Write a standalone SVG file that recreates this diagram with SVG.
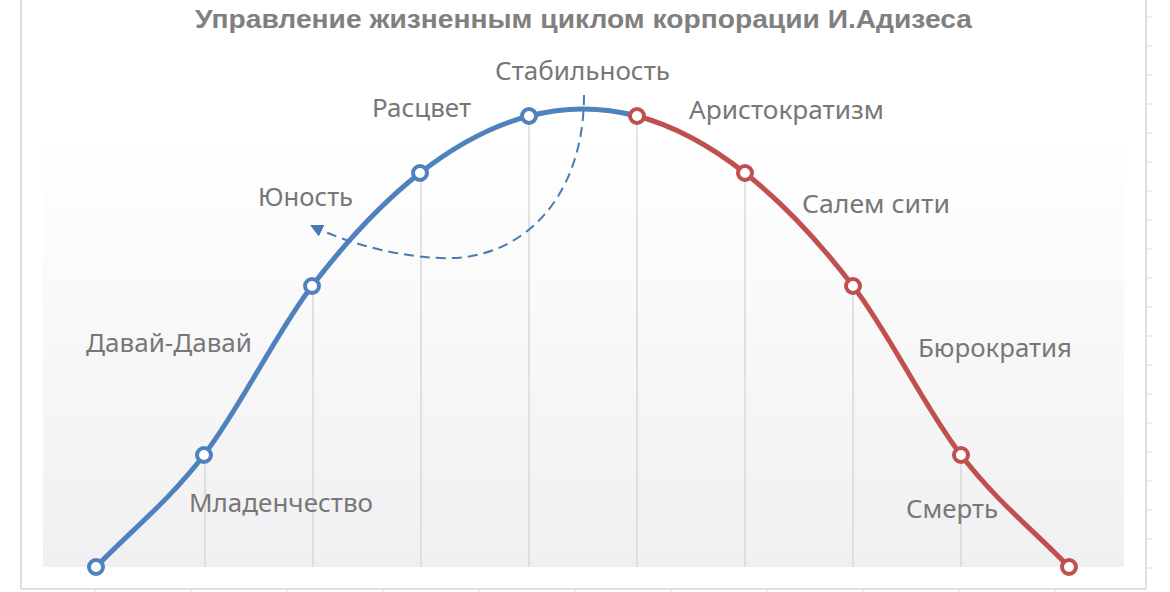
<svg xmlns="http://www.w3.org/2000/svg" width="1170" height="592" viewBox="0 0 1170 592">
<defs>
<linearGradient id="plotbg" x1="0" y1="0" x2="0" y2="1">
<stop offset="0" stop-color="#ffffff"/>
<stop offset="1" stop-color="#f0f0f2"/>
</linearGradient>
<marker id="arrowhead" viewBox="0 0 12 12" refX="10" refY="6" markerWidth="13" markerHeight="13" orient="auto" markerUnits="userSpaceOnUse">
<path d="M0,0 L12,6 L0,12 z" fill="#4a7ab5"/>
</marker>
</defs>
<style>
.frame{stroke:#d6d6d6;stroke-width:1.5;fill:none}
.tick{stroke:#dcdcdc;stroke-width:1}
.grid{stroke:#d9d9d9;stroke-width:1.5}
.lbl{font-family:"Noto Sans","DejaVu Sans",sans-serif;font-size:25px;fill:#777777}
.title{font-family:"Liberation Sans","Noto Sans",sans-serif;font-size:26px;font-weight:bold;fill:#808080}
.blue{stroke:#4f81bd;stroke-width:5;fill:none;stroke-linecap:round}
.red{stroke:#c0504d;stroke-width:5;fill:none;stroke-linecap:round}
.mb{fill:#ffffff;stroke:#4f81bd;stroke-width:4}
.mr{fill:#ffffff;stroke:#c0504d;stroke-width:4}
.dash{stroke:#4a7ab5;stroke-width:2;fill:none;stroke-dasharray:10 6}
</style>
<rect x="0" y="0" width="1170" height="592" fill="#ffffff"/>
<g id="frame">
<line class="frame" x1="21" y1="0" x2="21" y2="589"/>
<line class="frame" x1="21" y1="589" x2="1146" y2="589"/>
<line class="frame" x1="1146" y1="0" x2="1146" y2="589"/>
<g class="tick">
<line x1="1146" y1="17" x2="1152" y2="17"/><line x1="1146" y1="46" x2="1152" y2="46"/><line x1="1146" y1="75" x2="1152" y2="75"/><line x1="1146" y1="104" x2="1152" y2="104"/><line x1="1146" y1="133" x2="1152" y2="133"/><line x1="1146" y1="162" x2="1152" y2="162"/><line x1="1146" y1="191" x2="1152" y2="191"/><line x1="1146" y1="220" x2="1152" y2="220"/><line x1="1146" y1="249" x2="1152" y2="249"/><line x1="1146" y1="278" x2="1152" y2="278"/><line x1="1146" y1="307" x2="1152" y2="307"/><line x1="1146" y1="336" x2="1152" y2="336"/><line x1="1146" y1="365" x2="1152" y2="365"/><line x1="1146" y1="394" x2="1152" y2="394"/><line x1="1146" y1="423" x2="1152" y2="423"/><line x1="1146" y1="452" x2="1152" y2="452"/><line x1="1146" y1="481" x2="1152" y2="481"/><line x1="1146" y1="510" x2="1152" y2="510"/><line x1="1146" y1="539" x2="1152" y2="539"/><line x1="1146" y1="568" x2="1152" y2="568"/>
<line x1="95" y1="589" x2="95" y2="592"/><line x1="191" y1="589" x2="191" y2="592"/><line x1="287" y1="589" x2="287" y2="592"/><line x1="383" y1="589" x2="383" y2="592"/><line x1="479" y1="589" x2="479" y2="592"/><line x1="575" y1="589" x2="575" y2="592"/><line x1="671" y1="589" x2="671" y2="592"/><line x1="767" y1="589" x2="767" y2="592"/><line x1="863" y1="589" x2="863" y2="592"/><line x1="959" y1="589" x2="959" y2="592"/><line x1="1055" y1="589" x2="1055" y2="592"/>
</g>
</g>
<rect id="plot" x="43" y="135" width="1081" height="432" fill="url(#plotbg)"/>
<g id="grid">
<line class="grid" x1="205" y1="462" x2="205" y2="567"/>
<line class="grid" x1="313" y1="293" x2="313" y2="567"/>
<line class="grid" x1="421" y1="180" x2="421" y2="567"/>
<line class="grid" x1="529" y1="123" x2="529" y2="567"/>
<line class="grid" x1="637" y1="123" x2="637" y2="567"/>
<line class="grid" x1="745" y1="180" x2="745" y2="567"/>
<line class="grid" x1="853" y1="293" x2="853" y2="567"/>
<line class="grid" x1="961" y1="462" x2="961" y2="567"/>
</g>
<text id="title" class="title" x="195" y="28" textLength="777" lengthAdjust="spacingAndGlyphs">Управление жизненным циклом корпорации И.Адизеса</text>
<g id="connectors">
<path id="curve-blue" class="blue" d="M96,567 C132,529.7 168,501.8 204,455 C240,408.2 276,333 312,286 C348,239 383.8,201.3 420,173 C456.2,144.7 492.8,125.5 529,116 C565.2,106.5 601,106.5 637,116"/>
<path id="curve-red" class="red" d="M637,116 C673,125.5 709,144.7 745,173 C781,201.3 817,239 853,286 C889,333 925,408.2 961,455 C997,501.8 1033,529.7 1069,567"/>
<path id="dashed-arrow" class="dash" d="M584,95 C584,200 520,262 440,258 C392,256 345,242 312,226" marker-end="url(#arrowhead)"/>
</g>
<g id="markers">
<circle class="mb" cx="96" cy="567" r="7"/>
<circle class="mb" cx="204" cy="455" r="7"/>
<circle class="mb" cx="312" cy="286" r="7"/>
<circle class="mb" cx="420" cy="173" r="7"/>
<circle class="mb" cx="529" cy="116" r="7"/>
<circle class="mr" cx="637" cy="116" r="7"/>
<circle class="mr" cx="745" cy="173" r="7"/>
<circle class="mr" cx="853" cy="286" r="7"/>
<circle class="mr" cx="961" cy="455" r="7"/>
<circle class="mr" cx="1069" cy="567" r="7"/>
</g>
<g id="labels">
<g id="n-stab"><text class="lbl" x="495" y="80" textLength="175" lengthAdjust="spacingAndGlyphs">Стабильность</text></g>
<g id="n-rascvet"><text class="lbl" x="372" y="117" textLength="99" lengthAdjust="spacingAndGlyphs">Расцвет</text></g>
<g id="n-arist"><text class="lbl" x="689" y="119" textLength="195" lengthAdjust="spacingAndGlyphs">Аристократизм</text></g>
<g id="n-yunost"><text class="lbl" x="258" y="206" textLength="95" lengthAdjust="spacingAndGlyphs">Юность</text></g>
<g id="n-salem"><text class="lbl" x="802" y="213" textLength="148" lengthAdjust="spacingAndGlyphs">Салем сити</text></g>
<g id="n-davai"><text class="lbl" x="86" y="352" textLength="166" lengthAdjust="spacingAndGlyphs">Давай-Давай</text></g>
<g id="n-buro"><text class="lbl" x="918" y="357" textLength="154" lengthAdjust="spacingAndGlyphs">Бюрократия</text></g>
<g id="n-mlad"><text class="lbl" x="189" y="512" textLength="184" lengthAdjust="spacingAndGlyphs">Младенчество</text></g>
<g id="n-smert"><text class="lbl" x="906" y="518" textLength="92" lengthAdjust="spacingAndGlyphs">Смерть</text></g>
</g>
</svg>
